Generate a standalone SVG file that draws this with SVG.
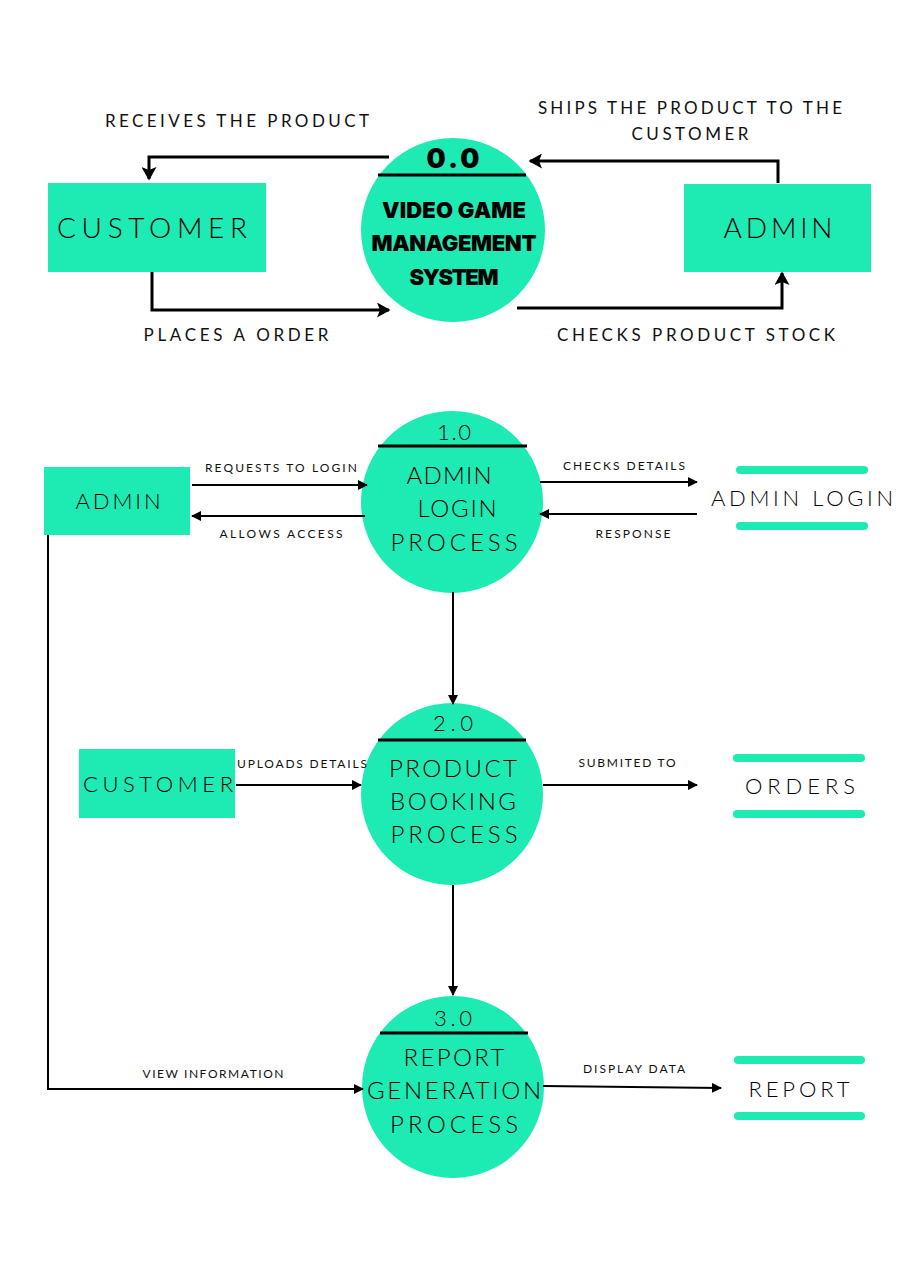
<svg xmlns="http://www.w3.org/2000/svg" width="904" height="1280" viewBox="0 0 904 1280">
  <defs>
    <style>
      .fill { fill: #1DEBB3; }
      .t { font-family: Lato, "Open Sans", "Liberation Sans", sans-serif; font-weight: 300; fill: #000; text-anchor: middle; }
      .s { font-family: Lato, "Open Sans", "Liberation Sans", sans-serif; font-weight: 400; fill: #111; text-anchor: middle; }
      .b { font-family: Inter, "Liberation Sans", sans-serif; font-weight: 900; fill: #000; text-anchor: middle; }
      .flow { fill: none; stroke: #000; stroke-width: 3; stroke-linejoin: miter; }
      .flow2 { fill: none; stroke: #000; stroke-width: 2; }
      .bar { stroke: #1DEBB3; stroke-width: 8; stroke-linecap: round; }
      .rule { stroke: #000; stroke-width: 3; }
    </style>
    <marker id="headBig" viewBox="0 0 10 10" refX="8" refY="5" markerWidth="5" markerHeight="5" markerUnits="strokeWidth" orient="auto">
      <path d="M0,0 L9,5 L0,10 L2,5 Z" fill="#000"/>
    </marker>
    <marker id="head" viewBox="0 0 10 10" refX="9" refY="5" markerWidth="5" markerHeight="5" markerUnits="strokeWidth" orient="auto">
      <path d="M0,0 L10,5 L0,10 Z" fill="#000"/>
    </marker>
  </defs>

  <rect width="904" height="1280" fill="#fff"/>

  <!-- Context level -->
  <g id="ctx-customer">
    <rect class="fill" x="48" y="183" width="218" height="89"/>
    <text class="t" x="152" y="238" font-size="28" textLength="190">CUSTOMER</text>
  </g>
  <g id="ctx-system">
    <circle class="fill" cx="453" cy="230" r="92"/>
    <text class="b" x="453" y="168" font-size="27" textLength="53">0.0</text>
    <line class="rule" x1="378" y1="175" x2="526" y2="175"/>
    <text class="b" x="454" y="218" font-size="22" textLength="144">VIDEO GAME</text>
    <text class="b" x="454" y="251" font-size="22" textLength="165">MANAGEMENT</text>
    <text class="b" x="454" y="285" font-size="22" textLength="89">SYSTEM</text>
  </g>
  <g id="ctx-admin">
    <rect class="fill" x="684" y="184" width="187" height="88"/>
    <text class="t" x="778" y="238" font-size="28" textLength="109">ADMIN</text>
  </g>

  <!-- Level 1 processes -->
  <g id="p1">
    <circle class="fill" cx="452" cy="502" r="91"/>
    <text class="t" x="454" y="440" font-size="22" textLength="34">1.0</text>
    <line class="rule" x1="378" y1="446" x2="527" y2="446"/>
    <text class="t" x="449" y="484" font-size="24" textLength="85">ADMIN</text>
    <text class="t" x="457" y="517" font-size="24" textLength="79">LOGIN</text>
    <text class="t" x="454" y="551" font-size="24" textLength="127">PROCESS</text>
  </g>
  <g id="p2">
    <circle class="fill" cx="452" cy="794" r="91"/>
    <text class="t" x="453" y="731" font-size="22" textLength="40">2.0</text>
    <line class="rule" x1="378" y1="740" x2="526" y2="740"/>
    <text class="t" x="453" y="777" font-size="24" textLength="128">PRODUCT</text>
    <text class="t" x="453" y="810" font-size="24" textLength="126">BOOKING</text>
    <text class="t" x="454" y="843" font-size="24" textLength="127">PROCESS</text>
  </g>
  <g id="p3">
    <circle class="fill" cx="453" cy="1087" r="91"/>
    <text class="t" x="453" y="1026" font-size="22" textLength="38">3.0</text>
    <line class="rule" x1="380" y1="1033" x2="528" y2="1033"/>
    <text class="t" x="454" y="1066" font-size="24" textLength="101">REPORT</text>
    <text class="t" x="454" y="1099" font-size="24" textLength="174">GENERATION</text>
    <text class="t" x="454" y="1133" font-size="24" textLength="128">PROCESS</text>
  </g>

  <!-- External entities -->
  <g id="admin">
    <rect class="fill" x="44" y="467" width="146" height="68"/>
    <text class="t" x="118" y="509" font-size="22" textLength="85">ADMIN</text>
  </g>
  <g id="customer">
    <rect class="fill" x="79" y="749" width="156" height="69"/>
    <text class="t" x="158" y="792" font-size="22" textLength="150">CUSTOMER</text>
  </g>

  <!-- Data stores -->
  <g id="store-admin-login">
    <line class="bar" x1="740" y1="470" x2="864" y2="470"/>
    <line class="bar" x1="740" y1="526" x2="864" y2="526"/>
    <text class="t" x="802" y="506" font-size="22" textLength="182">ADMIN LOGIN</text>
  </g>
  <g id="store-orders">
    <line class="bar" x1="737" y1="758" x2="861" y2="758"/>
    <line class="bar" x1="737" y1="814" x2="861" y2="814"/>
    <text class="t" x="800" y="794" font-size="22" textLength="110">ORDERS</text>
  </g>
  <g id="store-report">
    <line class="bar" x1="738" y1="1060" x2="861" y2="1060"/>
    <line class="bar" x1="738" y1="1116" x2="861" y2="1116"/>
    <text class="t" x="799" y="1097" font-size="22" textLength="101">REPORT</text>
  </g>

  <!-- Connectors -->
  <g id="connectors">
    <path class="flow" d="M389,157 H149 V179" marker-end="url(#headBig)"/>
    <path class="flow" d="M152,272 V310 H389" marker-end="url(#headBig)"/>
    <path class="flow" d="M778,183 V161 H530" marker-end="url(#headBig)"/>
    <path class="flow" d="M517,308 H782 V273" marker-end="url(#headBig)"/>

    <path class="flow2" d="M192,485 H367" marker-end="url(#head)"/>
    <path class="flow2" d="M365,516 H192" marker-end="url(#head)"/>
    <path class="flow2" d="M540,482 H697" marker-end="url(#head)"/>
    <path class="flow2" d="M697,514 H540" marker-end="url(#head)"/>
    <path class="flow2" d="M453,592 V704" marker-end="url(#head)"/>
    <path class="flow2" d="M236,785 H361" marker-end="url(#head)"/>
    <path class="flow2" d="M543,785 H697" marker-end="url(#head)"/>
    <path class="flow2" d="M453,885 V995" marker-end="url(#head)"/>
    <path class="flow2" d="M48,535 V1089 H363" marker-end="url(#head)"/>
    <path class="flow2" d="M543,1086 L721,1088" marker-end="url(#head)"/>
  </g>

  <!-- Flow labels -->
  <g id="labels">
    <text class="s" x="237" y="127" font-size="17" textLength="264">RECEIVES THE PRODUCT</text>
    <text class="s" x="236" y="341" font-size="17" textLength="185">PLACES A ORDER</text>
    <text class="s" x="690" y="114" font-size="17" textLength="304">SHIPS THE PRODUCT TO THE</text>
    <text class="s" x="690" y="140" font-size="17" textLength="117">CUSTOMER</text>
    <text class="s" x="696" y="341" font-size="17" textLength="278">CHECKS PRODUCT STOCK</text>

    <text class="s" x="281" y="472" font-size="12" textLength="152">REQUESTS TO LOGIN</text>
    <text class="s" x="281" y="538" font-size="12" textLength="123">ALLOWS ACCESS</text>
    <text class="s" x="624" y="470" font-size="12" textLength="122">CHECKS DETAILS</text>
    <text class="s" x="633" y="538" font-size="12" textLength="75">RESPONSE</text>
    <text class="s" x="302" y="768" font-size="12" textLength="130">UPLOADS DETAILS</text>
    <text class="s" x="627" y="767" font-size="12" textLength="97">SUBMITED TO</text>
    <text class="s" x="213" y="1078" font-size="12" textLength="141">VIEW INFORMATION</text>
    <text class="s" x="634" y="1073" font-size="12" textLength="102">DISPLAY DATA</text>
  </g>
</svg>
